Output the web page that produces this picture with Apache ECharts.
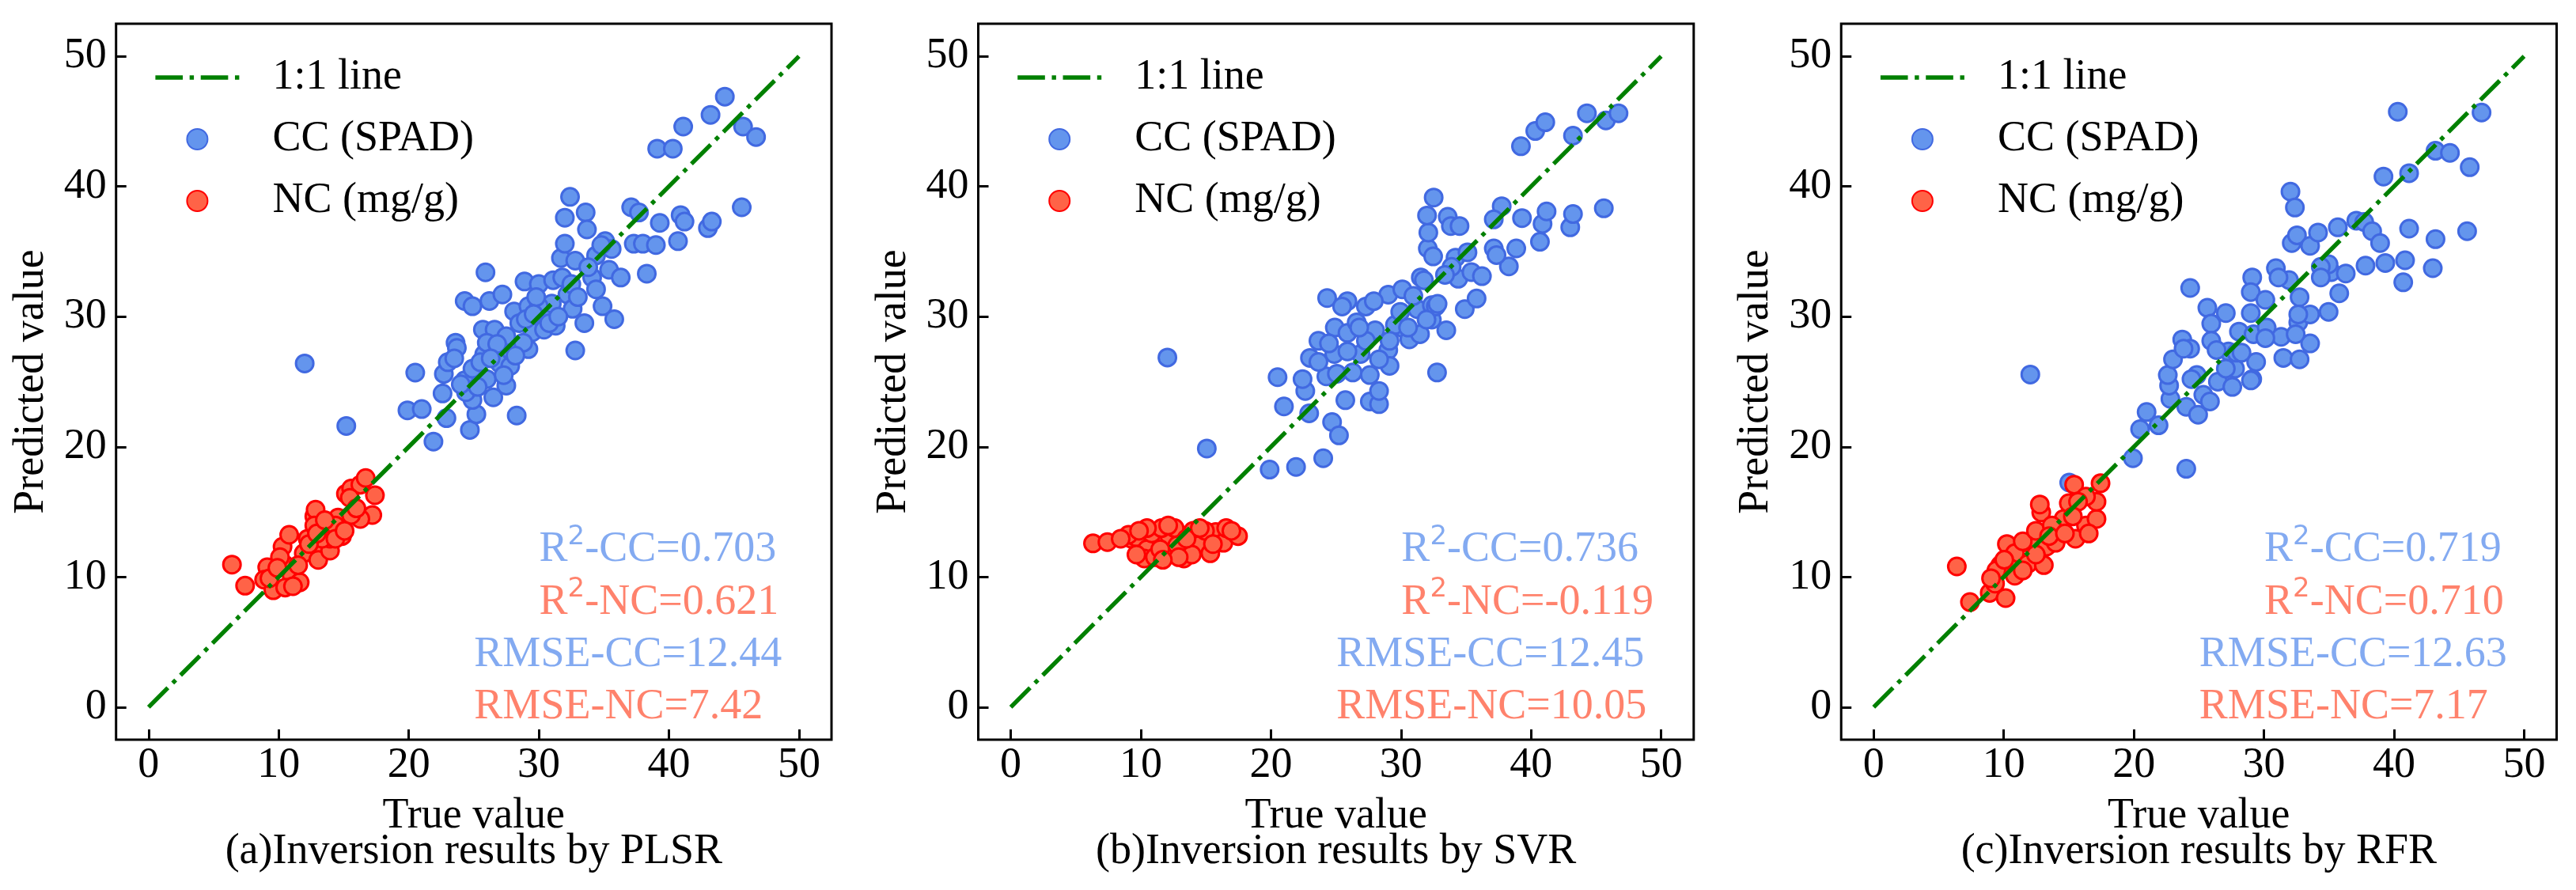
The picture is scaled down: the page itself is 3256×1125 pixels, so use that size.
<!DOCTYPE html>
<html>
<head>
<meta charset="utf-8">
<script src="https://cdn.jsdelivr.net/npm/echarts@6/dist/echarts.min.js"></script>
<style>
html,body{margin:0;padding:0;background:#fff;}
#chart{width:3256px;height:1125px;}
</style>
</head>
<body>
<div id="chart"></div>
<script>
// ---------------- data ----------------
const panelCaptions = ['(a)Inversion results by PLSR', '(b)Inversion results by SVR', '(c)Inversion results by RFR'];
const seriesNames = ['1:1 line', 'CC (SPAD)', 'NC (mg/g)'];
const tickValues = [0, 10, 20, 30, 40, 50];
const oneToOne = [[0, 0], [50, 50]];

const r2CC = ['0.703', '0.736', '0.719'];
const r2NC = ['0.621', '-0.119', '0.710'];
const rmseCC = ['12.44', '12.45', '12.63'];
const rmseNC = ['7.42', '10.05', '7.17'];

const plsrCC = [
[12.0,26.4],[15.2,21.6],[19.9,22.8],[21.0,22.9],[21.9,20.4],[20.5,25.7],[22.6,24.1],[22.9,22.2],[22.7,25.6],[23.0,26.5],
[23.6,28.0],[23.7,27.6],[24.3,31.2],[24.9,30.8],[24.7,21.3],[25.2,22.5],[24.9,23.6],[24.4,24.2],[24.3,25.1],[24.9,26.0],
[25.9,33.4],[26.2,31.2],[25.7,29.0],[25.8,27.1],[26.5,23.8],[26.6,29.0],[27.2,31.7],[27.5,24.7],[27.0,26.4],[27.9,27.3],
[28.1,30.4],[28.3,22.4],[28.9,32.7],[29.2,30.8],[29.2,27.5],[29.5,28.8],[30.0,32.5],[30.4,29.0],[31.1,32.8],[31.3,29.3],
[31.7,34.5],[32.0,35.6],[32.0,37.6],[32.4,39.2],[32.2,31.7],[32.8,34.3],[32.6,30.6],[32.8,27.4],[33.5,29.5],[33.6,38.0],
[33.7,36.7],[34.1,33.0],[34.4,32.1],[34.4,34.7],[35.1,35.8],[34.9,30.8],[35.6,35.2],[35.8,29.8],[35.4,33.6],[36.3,33.0],
[37.1,38.4],[37.3,35.6],[37.7,38.0],[38.0,35.6],[38.3,33.3],[39.0,35.5],[39.3,37.2],[39.1,42.9],[40.3,42.9],[40.7,35.8],
[40.9,37.8],[41.2,37.3],[41.1,44.6],[43.0,36.8],[43.3,37.3],[43.2,45.5],[44.3,46.9],[45.7,44.6],[45.6,38.4],[46.7,43.8],
[27.5,28.5],[28.5,29.5],[26.0,28.0],[29.0,29.8],[30.5,30.2],[31.0,31.0],[25.5,26.5],[26.8,27.9],[27.8,26.2],[28.8,28.0],
[30.0,30.8],[24.0,24.8],[23.5,26.8],[26.0,25.2],[29.8,31.5],[31.8,33.0],[32.5,32.5],[33.0,31.5],[33.8,33.8],[34.8,35.5],
[26.3,26.8],[27.3,25.5],[28.2,27.0],[30.8,29.5],[25.3,24.6],[29.6,30.2],[31.5,30.0]
];
const plsrNC = [
[6.41,10.95],[7.42,9.33],[9.12,10.75],[8.88,9.79],[9.59,8.98],[10.5,10.91],[11.0,10.1],[10.5,9.19],[11.62,9.59],[10.3,12.33],
[10.81,13.24],[10.1,11.52],[12.23,12.94],[11.93,11.82],[12.74,14.66],[12.84,15.17],[12.74,13.95],[13.04,12.23],[13.04,11.31],[13.95,12.03],
[13.75,13.65],[14.56,14.56],[14.87,13.14],[15.17,16.39],[15.57,16.79],[16.28,17.09],[16.69,17.6],[17.4,16.28],[17.2,14.76],[16.28,14.46],
[15.57,14.76],[15.47,16.08],[13.95,12.94],[14.36,13.95],[13.34,12.94],[11.1,9.29],[9.29,9.9],[12.33,12.53],[12.94,13.34],[14.36,12.94],
[11.5,10.9],[9.9,10.7],[13.55,14.36],[15.07,13.55],[15.98,15.27]
];

const svrCC = [
[12.04,26.86],[15.07,19.87],
[19.9,18.25],[21.93,18.45],[24.02,19.12],[21.0,23.1],[20.51,25.35],[22.94,22.57],[22.64,24.29],[22.43,25.2],
[23.0,26.83],[23.65,28.14],[24.26,25.41],[24.7,21.9],[25.23,20.88],[25.72,23.58],[27.6,23.48],[28.31,23.28],[28.31,24.29],[24.32,31.43],
[24.91,29.16],[25.88,31.19],[25.88,28.75],[26.59,29.56],[27.3,30.78],[24.87,27.13],[25.07,25.61],[26.29,25.71],[27.6,25.51],[26.89,27.13],
[28.01,28.95],[29.02,27.43],[29.12,26.22],[29.02,31.69],[30.1,32.1],[30.24,29.06],[30.64,28.25],[31.25,30.58],[31.52,33.01],[31.46,28.65],
[32.06,35.24],[32.47,34.63],[32.1,36.46],[32.0,37.77],[32.51,39.15],[32.37,30.88],[32.37,29.77],[32.67,30.78],[33.48,28.95],[32.77,25.71],
[33.59,37.67],[33.83,36.96],[34.5,36.96],[34.19,34.53],[35.11,34.94],[34.4,32.91],[35.41,33.42],[36.22,33.11],[34.9,30.58],[35.81,31.39],
[37.13,35.24],[37.74,38.48],[37.13,37.47],[38.86,35.24],[38.29,33.86],[39.3,37.57],[40.68,35.75],[40.88,37.13],[41.19,38.08],[43.01,36.86],
[43.22,37.88],[45.59,38.32],[39.22,43.09],[40.32,44.26],[41.09,44.93],[43.22,43.9],[44.29,45.62],[45.75,45.07],[46.72,45.62],[32.81,30.98],
[30.95,31.59],[29.53,29.36],[27.3,28.14],[29.12,28.14],[28.31,26.72],[25.88,27.33],[23.65,26.52],[29.94,30.37],[31.76,32.8],[33.89,33.82],
[31.96,29.77],[30.54,29.16],[26.79,29.16],[25.47,30.78],[24.46,27.94],[27.91,31.19],[33.38,33.21],[37.34,34.73]
];
const svrNC = [
[6.32,12.58],[7.43,12.68],[9.26,12.94],[9.66,13.04],[10.47,12.13],[10.84,13.35],[10.27,11.42],[11.08,11.52],[12.2,13.14],[11.89,11.72],
[12.8,12.43],[13.31,11.42],[12.6,13.75],[11.59,13.75],[10.47,13.75],[9.05,13.24],[14.02,13.55],[14.63,12.53],[15.34,11.82],[15.75,13.45],
[16.35,12.63],[16.56,13.75],[17.47,13.14],[14.93,13.55],[13.92,11.72],[9.66,11.72],[12.91,11.52],[8.45,12.94],[11.49,12.13],[13.51,12.94],
[15.54,12.53],[16.96,13.55],[11.69,11.32],[12.1,13.95],[14.53,13.75],[9.86,13.55]
];

const rfrCC = [
[12.04,25.55],[15.03,17.25],
[24.03,18.31],[19.93,19.12],[20.48,21.35],[20.98,22.67],[21.9,21.65],[24.33,32.2],[22.81,23.68],[22.71,24.7],
[22.61,25.51],[23.01,26.72],[23.72,28.24],[24.33,27.54],[24.03,23.07],[24.94,22.47],[25.34,23.99],[24.84,25.51],[25.65,30.68],[25.95,29.46],
[25.95,28.14],[27.07,30.27],[26.46,25.0],[27.57,24.6],[27.78,26.01],[27.27,27.33],[28.08,28.85],[29.1,33.01],[28.99,31.89],[28.99,30.27],
[29.2,28.65],[29.4,26.52],[29.1,25.2],[30.21,29.16],[30.11,31.29],[30.92,33.72],[31.32,28.45],[31.49,26.83],[32.04,39.6],[32.38,38.38],
[31.93,32.81],[32.74,26.72],[32.64,29.56],[33.55,30.17],[33.55,27.94],[32.14,35.65],[32.54,36.25],[33.55,35.44],[34.16,36.46],[34.97,30.37],
[35.79,31.79],[35.18,33.42],[36.29,33.31],[35.68,36.86],[37.1,37.37],[37.71,37.27],[38.32,36.56],[38.93,35.65],[37.81,33.92],[39.33,34.12],
[40.85,34.33],[40.71,32.64],[41.16,36.76],[43.19,35.95],[42.98,33.72],[45.62,36.56],[39.19,40.76],[41.16,41.02],[43.19,42.74],[44.3,42.58],
[45.82,41.48],[40.29,45.74],[46.73,45.68],[27.07,26.01],[27.88,27.23],[31.12,33.01],[32.74,31.49],[34.97,34.02],[34.37,33.82],[34.37,33.01],
[32.44,28.65],[32.64,30.17],[30.11,28.35],[28.28,27.23],[26.36,27.43],[24.43,25.2],[25.85,23.48],[23.82,27.54],[29.0,25.1]
];
const rfrNC = [
[6.39,10.81],[7.4,8.07],[8.92,8.78],[10.14,8.38],[9.33,9.49],[9.73,10.91],[10.44,11.62],[10.24,12.53],[10.85,11.82],[10.44,10.71],
[11.86,11.01],[12.06,12.53],[13.08,10.91],[12.88,14.96],[12.77,15.57],[13.28,12.33],[13.99,12.63],[14.6,14.46],[15.0,15.67],[15.41,17.09],
[15.51,12.94],[16.32,13.95],[17.13,14.46],[17.13,15.78],[17.44,17.2],[16.32,16.18],[15.71,15.78],[16.53,13.34],[11.46,12.74],[12.47,13.55],
[13.69,13.95],[10.85,10.1],[9.43,10.5],[10.04,11.32],[12.47,11.72],[13.48,13.14],[11.46,10.5],[14.7,13.34],[15.31,14.66],[9.02,9.9]
];

const ccSets = [plsrCC, svrCC, rfrCC];
const ncSets = [plsrNC, svrNC, rfrNC];

// ---------------- style / layout ----------------
const FONT = '"Liberation Serif", "Times New Roman", serif';
const FS = 54;
const BLUE_FILL = '#6495ED', BLUE_EDGE = '#4169E1';
const RED_FILL = '#FF6347', RED_EDGE = '#FF0000';
const GREEN = '#008000';
const LW = 5.4;
const DASH = [34.5, 8.6, 5.4, 8.6];
const LINE_ICON = 'path://M0 0h34.5v5.4h-34.5z M43.1 0h5.4v5.4h-5.4z M57.1 0h34.5v5.4h-34.5z M100.2 0h5.4v5.4h-5.4z';
const gridLefts = [146.7, 1236.5, 2327.2];
const gridTop = 30, gridW = 904.3, gridH = 905;

const grid = [], xAxis = [], yAxis = [], series = [], legend = [], title = [];

gridLefts.forEach((gl, i) => {
  grid.push({left: gl, top: gridTop, width: gridW, height: gridH, show: true,
    borderColor: '#000', borderWidth: 3, backgroundColor: 'transparent'});
  const tick = {show: true, inside: true, length: 13, customValues: tickValues, lineStyle: {color: '#000', width: 3}};
  xAxis.push({
    gridIndex: i, type: 'value', min: -2.5, max: 52.5, position: 'bottom',
    splitLine: {show: false}, axisLine: {show: false, onZero: false}, axisTick: tick,
    name: 'True value', nameLocation: 'middle', nameGap: 70,
    nameTextStyle: {fontFamily: FONT, fontSize: FS, color: '#000', lineHeight: 54},
    axisLabel: {customValues: tickValues, margin: 6, fontFamily: FONT, fontSize: FS, color: '#000', lineHeight: 54}
  });
  yAxis.push({
    gridIndex: i, type: 'value', min: -2.5, max: 52.5, position: 'left',
    splitLine: {show: false}, axisLine: {show: false, onZero: false}, axisTick: tick,
    name: 'Predicted value', nameLocation: 'middle', nameGap: 80, nameRotate: 90,
    nameTextStyle: {fontFamily: FONT, fontSize: FS, color: '#000', lineHeight: 54},
    axisLabel: {customValues: tickValues, margin: 12, fontFamily: FONT, fontSize: FS, color: '#000'}
  });

  series.push({
    name: seriesNames[1], type: 'scatter', xAxisIndex: i, yAxisIndex: i,
    data: ccSets[i], symbol: 'circle', symbolSize: 22,
    itemStyle: {color: BLUE_FILL, borderColor: BLUE_EDGE, borderWidth: 3, opacity: 1},
    emphasis: {disabled: true}, z: 2
  });
  series.push({
    name: seriesNames[2], type: 'scatter', xAxisIndex: i, yAxisIndex: i,
    data: ncSets[i], symbol: 'circle', symbolSize: 22,
    itemStyle: {color: RED_FILL, borderColor: RED_EDGE, borderWidth: 3, opacity: 1},
    emphasis: {disabled: true}, z: 3
  });
  series.push({
    name: seriesNames[0], type: 'line', xAxisIndex: i, yAxisIndex: i,
    data: oneToOne, symbol: 'none', showSymbol: false,
    lineStyle: {color: GREEN, width: LW, type: DASH, cap: 'butt'},
    itemStyle: {color: GREEN},
    emphasis: {disabled: true}, z: 4
  });

  const rich = {
    ab: {fontFamily: FONT, fontSize: FS, lineHeight: 66, color: BLUE_FILL},
    sb: {fontFamily: '"DejaVu Sans", sans-serif', fontSize: 34, lineHeight: 34, verticalAlign: 'top', color: BLUE_FILL},
    ar: {fontFamily: FONT, fontSize: FS, lineHeight: 66, color: RED_FILL},
    sr: {fontFamily: '"DejaVu Sans", sans-serif', fontSize: 34, lineHeight: 34, verticalAlign: 'top', color: RED_FILL}
  };
  const annots = [
    {value: [30, 12.1], label: {formatter: '{ab|R}{sb|2}{ab|-CC=' + r2CC[i] + '}'}},
    {value: [30, 8.05], label: {formatter: '{ar|R}{sr|2}{ar|-NC=' + r2NC[i] + '}'}},
    {value: [25, 4.0], label: {formatter: '{ab|RMSE-CC=' + rmseCC[i] + '}'}},
    {value: [25, 0.0], label: {formatter: '{ar|RMSE-NC=' + rmseNC[i] + '}'}}
  ];
  series.push({
    name: 'metrics' + i, type: 'scatter', xAxisIndex: i, yAxisIndex: i, silent: true,
    symbol: 'rect', symbolSize: [1, 1], itemStyle: {color: 'rgba(255,255,255,0)', borderWidth: 0},
    label: {show: true, position: 'right', distance: 0, rich: rich},
    data: annots, z: 5, emphasis: {disabled: true}
  });

  legend.push({
    left: gl + 49.7, top: 71, orient: 'vertical', padding: 0,
    data: [
      {name: seriesNames[0], icon: LINE_ICON, itemStyle: {color: GREEN, borderWidth: 0}},
      {name: seriesNames[1]},
      {name: seriesNames[2]}
    ],
    itemWidth: 106, itemHeight: 26, itemGap: 24,
    selectedMode: false,
    textStyle: {fontFamily: FONT, fontSize: FS, color: '#000', lineHeight: 54, padding: [0, 0, 0, 37]}
  });

  title.push({
    text: panelCaptions[i], left: gl + gridW / 2, top: 1050, textAlign: 'center', padding: 0,
    textStyle: {fontFamily: FONT, fontSize: FS, fontWeight: 'normal', color: '#000', lineHeight: 54}
  });
});

const chart = echarts.init(document.getElementById('chart'), null, {renderer: 'canvas'});
chart.setOption({
  animation: false,
  backgroundColor: '#fff',
  tooltip: {show: false},
  title, grid, xAxis, yAxis, legend, series
});
</script>
</body>
</html>
